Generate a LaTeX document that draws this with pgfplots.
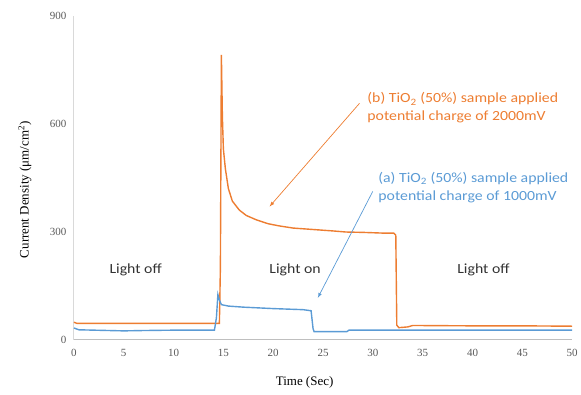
\documentclass[border=0pt]{standalone}
\usepackage{fontspec}
\setmainfont{Liberation Serif}
\newfontfamily\calfont{Carlito}[FakeStretch=1.13]
\usepackage{pgfplots}
\pgfplotsset{compat=1.18}
\definecolor{orng}{HTML}{ED7D31}
\definecolor{blu}{HTML}{5B9BD5}
\definecolor{tickgray}{HTML}{595959}
\begin{document}
\begin{tikzpicture}
\begin{axis}[
  scale only axis, width=499pt, height=324pt,
  xmin=0, xmax=50, ymin=0, ymax=900,
  xtick={0,5,...,50}, ytick={0,300,600,900},
  axis x line*=bottom, axis y line*=left,
  x axis line style={draw=black!25, line width=0.8pt, -},
  y axis line style={draw=black!15, line width=0.8pt, -},
  major tick length=0pt,
  tick label style={font=\fontsize{11}{12}\selectfont, text=tickgray},
  xticklabel style={yshift=-6pt},
  yticklabel style={xshift=-4pt},
  /pgf/number format/assume math mode=true,
  clip=false,
]
\addplot[orng, line width=1.4pt] coordinates {
(0,48) (0.3,45) (5,45) (10,45) (14.6,45) (14.7,200) (14.8,792) (14.9,620) (15.0,530)
(15.2,475) (15.5,420) (15.9,385) (16.6,360) (17.3,345) (18.3,333) (19.5,322)
(20.6,316) (22,310) (24,306) (26,302) (27.3,299) (29,298) (31,296) (32.1,296)
(32.3,290) (32.4,40) (32.6,33) (33.5,35) (34,39) (40,38) (45,38) (50,37)
};
\addplot[blu, line width=1.4pt] coordinates {
(0,32) (0.5,27) (5,24) (7,25) (10,26) (14.1,26) (14.3,60) (14.45,125) (14.6,110)
(14.8,97) (15.5,93) (17,90) (20,86) (23,83) (23.8,80) (24.0,30) (24.1,22)
(27.4,22) (27.6,26) (50,26)
};
\node[font=\calfont\fontsize{14}{16}\selectfont, text=black!80] at (axis cs:6.2,194) {Light off};
\node[font=\calfont\fontsize{14}{16}\selectfont, text=black!80] at (axis cs:22.2,194) {Light on};
\node[font=\calfont\fontsize{14}{16}\selectfont, text=black!80] at (axis cs:41.1,194) {Light off};
\node[font=\calfont\fontsize{14}{18}\selectfont, text=orng, align=left, anchor=west] at (axis cs:29.1,644) {(b) TiO\textsubscript{2} (50\%) sample applied\\potential charge of 2000mV};
\node[font=\calfont\fontsize{14}{18}\selectfont, text=blu, align=left, anchor=west] at (axis cs:30.2,422) {(a) TiO\textsubscript{2} (50\%) sample applied\\potential charge of 1000mV};
\draw[orng, line width=0.7pt, -latex] (axis cs:28.66,657) -- (axis cs:19.64,370);
\draw[blu, line width=0.7pt, -latex] (axis cs:29.99,412) -- (axis cs:24.48,116);
\node[font=\fontsize{13}{15}\selectfont, anchor=center] at ([yshift=-43pt]rel axis cs:0.463,0) {Time (Sec)};
\node[font=\fontsize{13}{15}\selectfont, anchor=center, rotate=90] at ([xshift=-49pt]rel axis cs:0,0.463) {Current Density (μm/cm\textsuperscript{2})};
\draw[draw=none] ([xshift=-74pt,yshift=-55pt]rel axis cs:0,0) rectangle ([xshift=8pt,yshift=16pt]rel axis cs:1,1);
\end{axis}
\end{tikzpicture}
\end{document}
